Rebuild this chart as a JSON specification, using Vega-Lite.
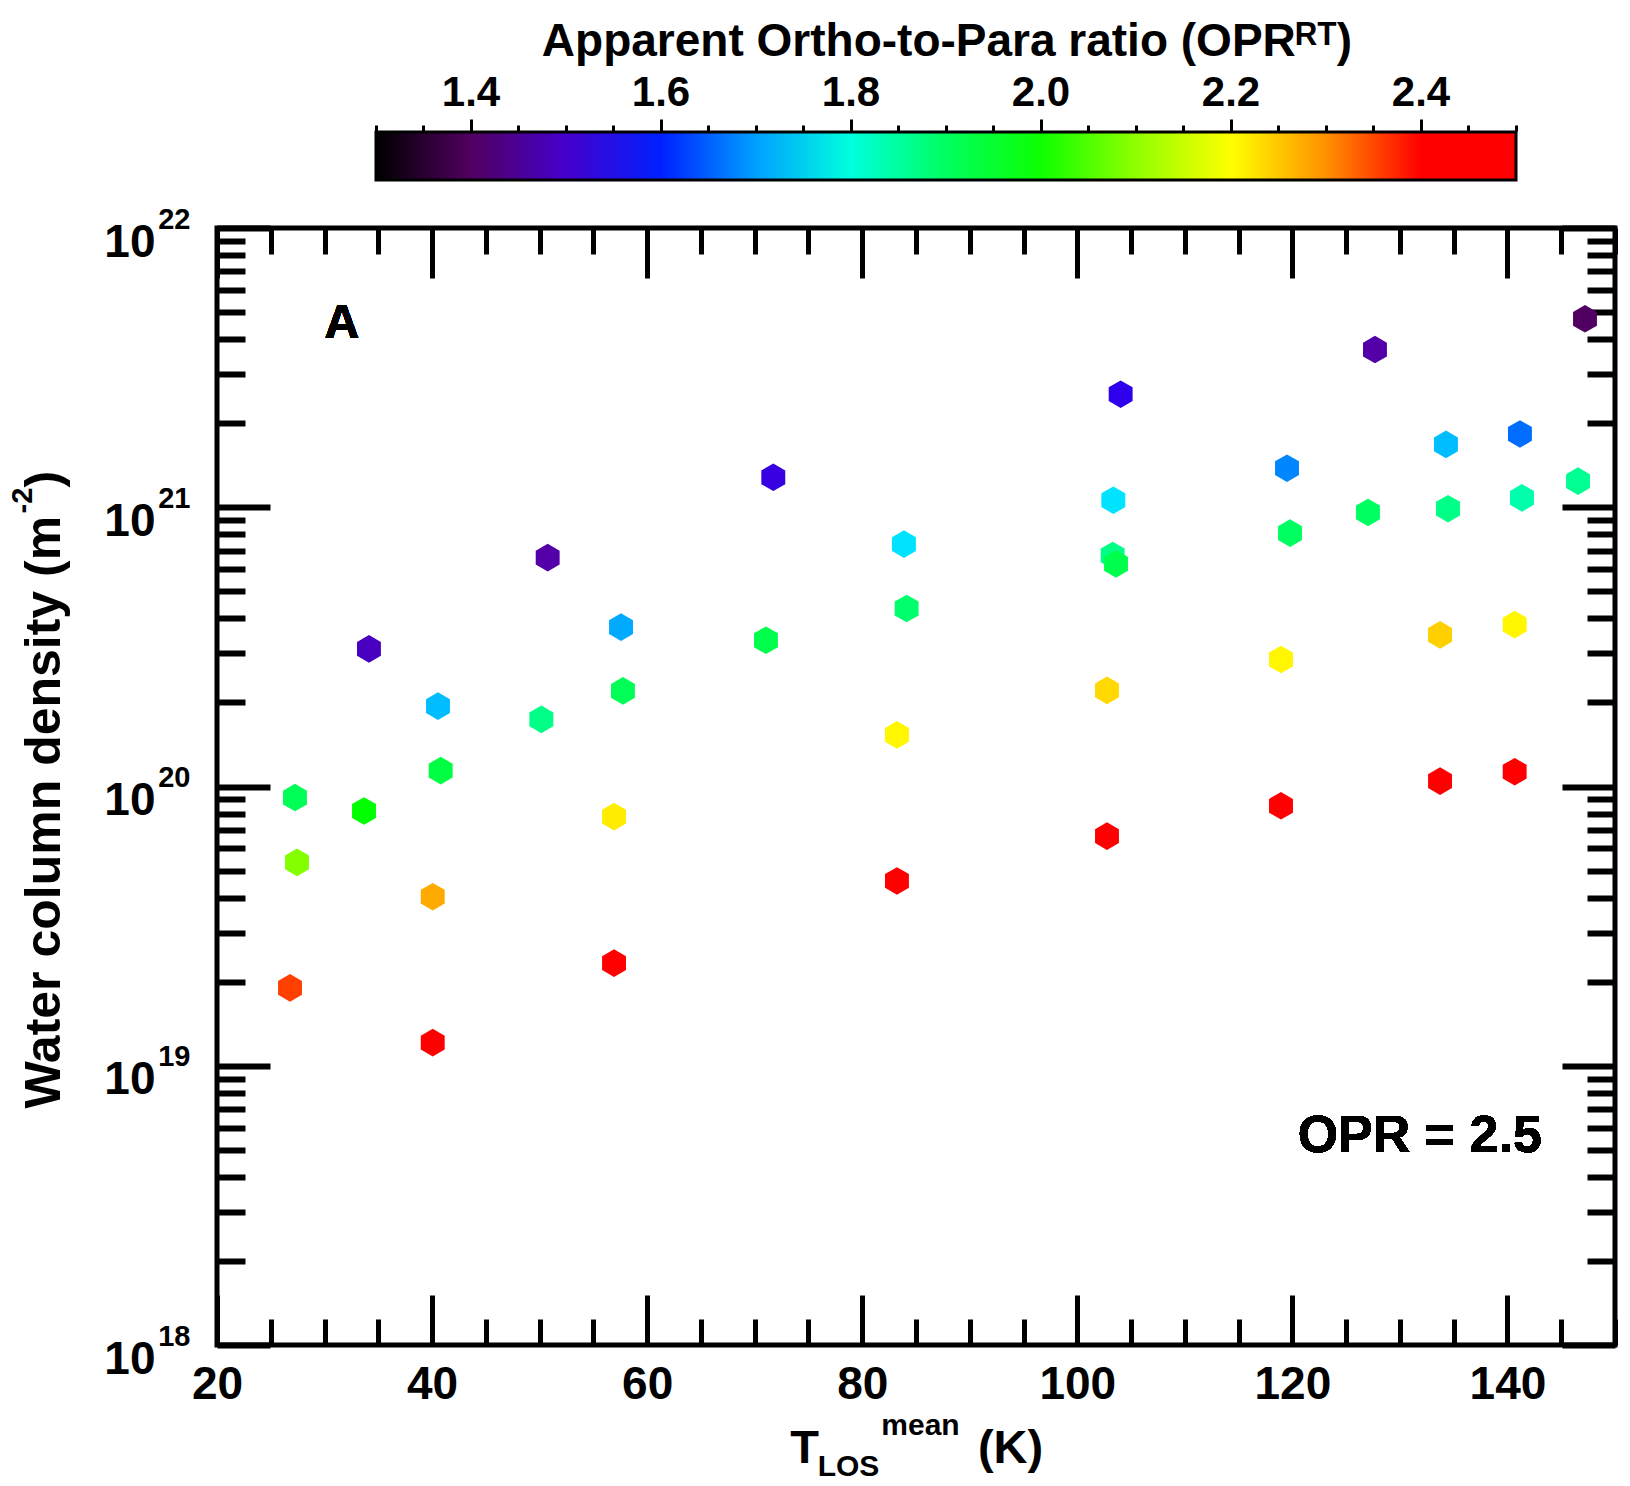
{
  "$schema": "https://vega.github.io/schema/vega-lite/v6.json",
  "width": 1398,
  "height": 1117,
  "autosize": {"type": "none"},
  "padding": {"left": 217, "top": 228, "right": 15, "bottom": 141},
  "background": "white",
  "data": {
    "values": [
      {"t": 50.75, "n": 6.6e20, "opr": 1.47},
      {"t": 57.57, "n": 3.72e20, "opr": 1.71},
      {"t": 34.13, "n": 3.11e20, "opr": 1.49},
      {"t": 57.75, "n": 2.20e20, "opr": 1.91},
      {"t": 40.55, "n": 1.94e20, "opr": 1.73},
      {"t": 50.16, "n": 1.74e20, "opr": 1.87},
      {"t": 40.80, "n": 1.14e20, "opr": 1.93},
      {"t": 27.25, "n": 9.13e19, "opr": 1.91},
      {"t": 33.67, "n": 8.17e19, "opr": 1.99},
      {"t": 56.92, "n": 7.80e19, "opr": 2.22},
      {"t": 27.44, "n": 5.35e19, "opr": 2.09},
      {"t": 40.06, "n": 4.03e19, "opr": 2.28},
      {"t": 56.92, "n": 2.33e19, "opr": 2.45},
      {"t": 26.79, "n": 1.90e19, "opr": 2.36},
      {"t": 40.06, "n": 1.21e19, "opr": 2.45},
      {"t": 104.03, "n": 2.54e21, "opr": 1.53},
      {"t": 71.73, "n": 1.28e21, "opr": 1.52},
      {"t": 103.35, "n": 1.06e21, "opr": 1.76},
      {"t": 83.88, "n": 7.38e20, "opr": 1.76},
      {"t": 103.29, "n": 6.72e20, "opr": 1.87},
      {"t": 103.60, "n": 6.27e20, "opr": 1.92},
      {"t": 84.13, "n": 4.34e20, "opr": 1.89},
      {"t": 71.05, "n": 3.34e20, "opr": 1.92},
      {"t": 102.76, "n": 2.21e20, "opr": 2.24},
      {"t": 83.23, "n": 1.53e20, "opr": 2.21},
      {"t": 102.76, "n": 6.64e19, "opr": 2.45},
      {"t": 83.23, "n": 4.59e19, "opr": 2.45},
      {"t": 147.21, "n": 4.73e21, "opr": 1.40},
      {"t": 127.68, "n": 3.67e21, "opr": 1.47},
      {"t": 141.16, "n": 1.83e21, "opr": 1.66},
      {"t": 134.28, "n": 1.68e21, "opr": 1.73},
      {"t": 119.50, "n": 1.38e21, "opr": 1.68},
      {"t": 146.56, "n": 1.24e21, "opr": 1.86},
      {"t": 141.35, "n": 1.08e21, "opr": 1.84},
      {"t": 134.47, "n": 9.88e20, "opr": 1.87},
      {"t": 127.03, "n": 9.58e20, "opr": 1.90},
      {"t": 119.78, "n": 8.08e20, "opr": 1.90},
      {"t": 140.67, "n": 3.80e20, "opr": 2.21},
      {"t": 133.73, "n": 3.49e20, "opr": 2.25},
      {"t": 118.94, "n": 2.85e20, "opr": 2.21},
      {"t": 140.67, "n": 1.13e20, "opr": 2.45},
      {"t": 133.73, "n": 1.045e20, "opr": 2.45},
      {"t": 118.94, "n": 8.53e19, "opr": 2.45}
    ]
  },
  "layer": [
    {
      "mark": {
        "type": "point",
        "filled": true,
        "opacity": 1,
        "strokeWidth": 0,
        "size": 762,
        "shape": "M0,-1L0.866,-0.5L0.866,0.5L0,1L-0.866,0.5L-0.866,-0.5Z"
      },
      "encoding": {
        "x": {
          "field": "t",
          "type": "quantitative",
          "scale": {"domain": [20, 150], "nice": false, "zero": false},
          "axis": {
            "orient": "bottom",
            "values": [20, 40, 60, 80, 100, 120, 140],
            "ticks": false,
            "domain": false,
            "labelFontSize": 46,
            "labelPadding": 53,
            "labelBaseline": "alphabetic",
            "labelFlush": false,
            "labelOverlap": false,
            "title": "T",
            "titleFontSize": 47,
            "titleX": 587,
            "titleY": 117,
            "titleAlign": "center",
            "titleBaseline": "alphabetic"
          }
        },
        "y": {
          "field": "n",
          "type": "quantitative",
          "scale": {"type": "log", "domain": [1e18, 1e22], "nice": false},
          "axis": {
            "orient": "left",
            "values": [1e18, 1e19, 1e20, 1e21, 1e22],
            "labelExpr": "'10'",
            "ticks": false,
            "domain": false,
            "labelFontSize": 46,
            "labelPadding": 62,
            "labelAlign": "right",
            "labelBaseline": "alphabetic",
            "labelOffset": 28,
            "labelFlush": false,
            "labelOverlap": false,
            "title": "Water column density (m",
            "titleFontSize": 50,
            "titleAngle": -90,
            "titleAlign": "left",
            "titleBaseline": "alphabetic",
            "titleX": -158,
            "titleY": 880
          }
        },
        "color": {
          "field": "opr",
          "type": "quantitative",
          "scale": {
            "type": "linear",
            "interpolate": "rgb",
            "domain": [1.3, 1.35, 1.4, 1.45, 1.5, 1.55, 1.575, 1.6, 1.65, 1.7, 1.75, 1.775, 1.8, 1.85, 1.9, 1.95, 1.99, 2.05, 2.1, 2.15, 2.2, 2.25, 2.3, 2.35, 2.4, 2.5],
            "range": ["#000000", "#2a0028", "#500060", "#5c0090", "#4500cc", "#2000ff", "#0000ff", "#0020ff", "#0060ff", "#00a0ff", "#00d0ff", "#00ffff", "#00ffdd", "#00ffa0", "#00ff60", "#00ff30", "#00ff00", "#50ff00", "#90ff00", "#c8ff00", "#ffff00", "#ffd000", "#ff9000", "#ff5000", "#ff0000", "#ff0000"]
          },
          "legend": {
            "type": "gradient",
            "orient": "none",
            "direction": "horizontal",
            "legendX": 159,
            "legendY": -208,
            "gradientLength": 1140,
            "gradientThickness": 48,
            "gradientStrokeColor": "black",
            "gradientStrokeWidth": 3,
            "values": [1.4, 1.6, 1.8, 2.0, 2.2, 2.4],
            "format": ".1f",
            "labelFontSize": 42,
            "labelFontWeight": "bold",
            "labelColor": "black",
            "labelBaseline": "alphabetic",
            "labelOffset": -107,
            "labelOverlap": false,
            "title": "Apparent Ortho-to-Para ratio (OPRᴿᵀ)",
            "titleFontSize": 46,
            "titleFontWeight": "bold",
            "titleColor": "black",
            "titleAnchor": "middle",
            "titlePadding": 66,
            "titleLimit": 2000
          }
        }
      }
    },
    {
      "mark": {"type": "text", "text": "A", "fontSize": 48, "fontWeight": "bold", "align": "center", "baseline": "alphabetic", "color": "black"},
      "encoding": {
        "x": {
          "datum": 31.6,
          "type": "quantitative",
          "scale": {"domain": [20, 150], "nice": false, "zero": false},
          "axis": {
            "orient": "bottom",
            "values": [20, 25, 30, 35, 40, 45, 50, 55, 60, 65, 70, 75, 80, 85, 90, 95, 100, 105, 110, 115, 120, 125, 130, 135, 140, 145, 150],
            "labels": false,
            "domain": false,
            "tickColor": "black",
            "tickWidth": 5,
            "tickSize": {"condition": {"test": "datum.value % 20 === 0", "value": -50}, "value": -26},
            "title": "LOS",
            "titleFontSize": 30,
            "titleX": 631,
            "titleY": 130,
            "titleAlign": "center",
            "titleBaseline": "alphabetic"
          }
        },
        "y": {
          "datum": 4.04e21,
          "type": "quantitative",
          "scale": {"type": "log", "domain": [1e18, 1e22], "nice": false},
          "axis": {
            "orient": "left",
            "values": [1e18, 2e18, 3e18, 4e18, 5e18, 6e18, 7e18, 8e18, 9e18, 1e19, 2e19, 3e19, 4e19, 5e19, 6e19, 7e19, 8e19, 9e19, 1e20, 2e20, 3e20, 4e20, 5e20, 6e20, 7e20, 8e20, 9e20, 1e21, 2e21, 3e21, 4e21, 5e21, 6e21, 7e21, 8e21, 9e21, 1e22],
            "labels": false,
            "domain": false,
            "tickColor": "black",
            "tickWidth": 6,
            "tickSize": {"condition": {"test": "abs(log(datum.value) / LN10 - round(log(datum.value) / LN10)) < 0.001", "value": -53}, "value": -28},
            "title": "-2",
            "titleFontSize": 29,
            "titleAngle": -90,
            "titleAlign": "left",
            "titleBaseline": "alphabetic",
            "titleX": -186,
            "titleY": 285
          }
        }
      }
    },
    {
      "mark": {"type": "text", "text": "OPR = 2.5", "fontSize": 52, "fontWeight": "bold", "align": "right", "baseline": "alphabetic", "color": "black"},
      "encoding": {
        "x": {
          "datum": 143.2,
          "type": "quantitative",
          "scale": {"domain": [20, 150], "nice": false, "zero": false},
          "axis": {
            "orient": "top",
            "values": [20, 25, 30, 35, 40, 45, 50, 55, 60, 65, 70, 75, 80, 85, 90, 95, 100, 105, 110, 115, 120, 125, 130, 135, 140, 145, 150],
            "labels": false,
            "domain": false,
            "tickColor": "black",
            "tickWidth": 5,
            "tickSize": {"condition": {"test": "datum.value % 20 === 0", "value": -50}, "value": -26},
            "title": "mean",
            "titleFontSize": 30,
            "titleX": 703,
            "titleY": 1206,
            "titleAlign": "center",
            "titleBaseline": "alphabetic"
          }
        },
        "y": {
          "datum": 4.91e18,
          "type": "quantitative",
          "scale": {"type": "log", "domain": [1e18, 1e22], "nice": false},
          "axis": {
            "orient": "right",
            "values": [1e18, 2e18, 3e18, 4e18, 5e18, 6e18, 7e18, 8e18, 9e18, 1e19, 2e19, 3e19, 4e19, 5e19, 6e19, 7e19, 8e19, 9e19, 1e20, 2e20, 3e20, 4e20, 5e20, 6e20, 7e20, 8e20, 9e20, 1e21, 2e21, 3e21, 4e21, 5e21, 6e21, 7e21, 8e21, 9e21, 1e22],
            "labels": false,
            "domain": false,
            "tickColor": "black",
            "tickWidth": 6,
            "tickSize": {"condition": {"test": "abs(log(datum.value) / LN10 - round(log(datum.value) / LN10)) < 0.001", "value": -53}, "value": -28},
            "title": null
          }
        }
      }
    },
    {
      "mark": {"type": "text", "text": "", "color": "black"},
      "encoding": {
        "x": {
          "datum": 20,
          "type": "quantitative",
          "scale": {"domain": [20, 150], "nice": false, "zero": false},
          "axis": {
            "orient": "bottom",
            "labels": false,
            "ticks": false,
            "domain": false,
            "title": "(K)",
            "titleFontSize": 47,
            "titleX": 793,
            "titleY": 117,
            "titleAlign": "center",
            "titleBaseline": "alphabetic"
          }
        },
        "y": {
          "datum": 1e18,
          "type": "quantitative",
          "scale": {"type": "log", "domain": [1e18, 1e22], "nice": false},
          "axis": {
            "orient": "left",
            "values": [1e18, 1e19, 1e20, 1e21, 1e22],
            "labelExpr": "format(round(log(datum.value) / LN10), 'd')",
            "ticks": false,
            "domain": false,
            "labelFontSize": 29,
            "labelPadding": 27,
            "labelAlign": "right",
            "labelBaseline": "alphabetic",
            "labelOffset": 0,
            "labelFlush": false,
            "labelOverlap": false,
            "title": ")",
            "titleFontSize": 50,
            "titleAngle": -90,
            "titleAlign": "left",
            "titleBaseline": "alphabetic",
            "titleX": -158,
            "titleY": 259
          }
        }
      }
    },
    {
      "mark": {"type": "text", "text": "", "color": "black"},
      "encoding": {
        "x": {
          "datum": 20,
          "type": "quantitative",
          "scale": {"domain": [20, 150], "nice": false, "zero": false},
          "axis": {
            "orient": "top",
            "offset": 97,
            "values": [34.785, 39.202, 43.619, 48.036, 52.453, 56.87, 61.287, 65.704, 70.121, 74.538, 78.955, 83.372, 87.789, 92.206, 96.623, 101.04, 105.457, 109.874, 114.291, 118.708, 123.125, 127.542, 131.959, 136.376, 140.793],
            "labels": false,
            "domain": false,
            "tickColor": "black",
            "tickWidth": 3,
            "tickSize": {"condition": {"test": "indexof([43.619, 61.287, 78.955, 96.623, 114.291, 131.959], datum.value) >= 0", "value": 12}, "value": 6},
            "title": null
          }
        },
        "y": {
          "datum": 1e18,
          "type": "quantitative",
          "scale": {"type": "log", "domain": [1e18, 1e22], "nice": false},
          "axis": null
        }
      }
    }
  ],
  "resolve": {"axis": {"x": "independent", "y": "independent"}},
  "config": {
    "font": "Liberation Sans",
    "view": {"stroke": "black", "strokeWidth": 5},
    "axis": {
      "grid": false,
      "labelColor": "black",
      "labelFontWeight": "bold",
      "titleColor": "black",
      "titleFontWeight": "bold"
    },
    "legend": {"gradientHorizontalMaxLength": 1200}
  }
}
